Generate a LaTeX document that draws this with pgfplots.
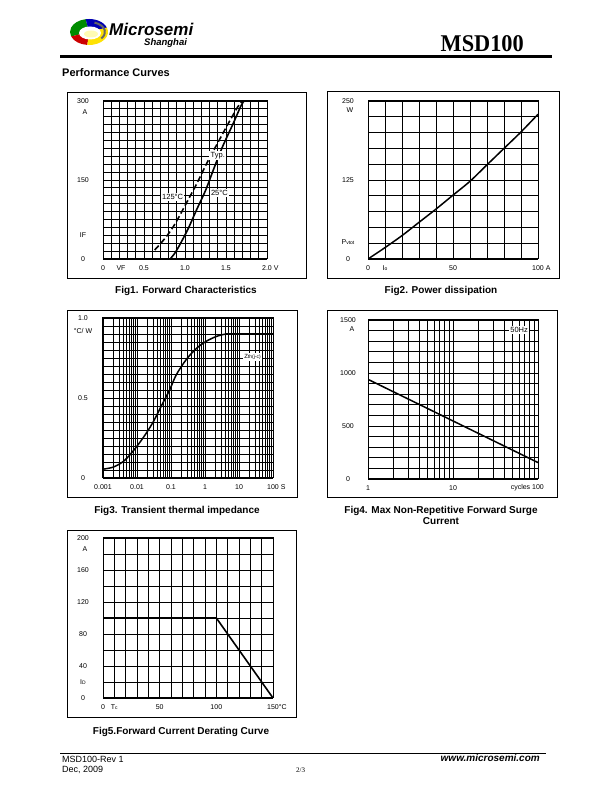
\documentclass[border=0pt]{standalone}
\usepackage{pgfplots}
\pgfplotsset{compat=1.18}
\usepackage{fontspec}
\setmainfont{Liberation Sans}
\newfontfamily\seriffont{Liberation Serif}

\pgfplotsset{
  ds/.style={
    scale only axis, anchor=south west,
    axis line style={line width=1pt},
    grid=both,
    major grid style={black, line width=0.8pt},
    minor grid style={black, line width=0.8pt},
    major tick length=0pt, minor tick length=0pt,
    tick label style={font=\fontsize{7}{8}\selectfont},
    xticklabel style={anchor=center, yshift=-9pt},
    yticklabel style={anchor=center, xshift=-20pt},
    extra x tick style={grid=none},
    extra y tick style={grid=none},
  },
}
\tikzset{lbl/.style={fill=white, inner sep=1.3pt, font=\fontsize{7.5}{8}\selectfont}}

\begin{document}
\begin{tikzpicture}[x=1pt,y=1pt]
\fill[white] (0pt,0pt) rectangle (612pt,792pt);

% ---------- header ----------
\begin{scope}[shift={(89pt,760pt)}]
  \fill[green!55!black] (0,0) -- (100:19pt and 13pt) arc[start angle=100,end angle=200,x radius=19pt,y radius=13pt] -- cycle;
  \fill[blue!70!black] (0,0) -- (20:19pt and 13pt) arc[start angle=20,end angle=100,x radius=19pt,y radius=13pt] -- cycle;
  \fill[red!80!black] (0,0) -- (200:19pt and 13pt) arc[start angle=200,end angle=265,x radius=19pt,y radius=13pt] -- cycle;
  \fill[yellow!85!orange] (0,0) -- (265:19pt and 13pt) arc[start angle=265,end angle=380,x radius=19pt,y radius=13pt] -- cycle;
  \fill[white] (1pt,-1pt) ellipse [x radius=11pt, y radius=6.5pt];
  \fill[yellow!30] (2pt,-2pt) ellipse [x radius=7pt, y radius=3.5pt];
  \draw[black!60, line width=2pt] (70:16pt and 10pt) arc[start angle=70,end angle=-40,x radius=16pt,y radius=10pt];
\end{scope}
\node[anchor=base west, inner sep=0pt, font=\bfseries\itshape\fontsize{17}{17}\selectfont] at (109pt,756pt) {Microsemi};
\node[anchor=base west, inner sep=0pt, font=\bfseries\itshape\fontsize{9.5}{10}\selectfont] at (144pt,746pt) {Shanghai};
\node[anchor=base east, inner sep=0pt, font=\seriffont\bfseries\fontsize{24}{24}\selectfont] at (524pt,740pt) {\scalebox{0.93}[1]{MSD100}};
\fill (60pt,734pt) rectangle (552pt,737pt);
\node[anchor=base west, inner sep=0pt, font=\bfseries\fontsize{11}{12}\selectfont] at (62pt,715pt) {Performance Curves};

% ---------- frames ----------
\draw[line width=0.9pt] (67pt,514pt) rectangle (306pt,700pt);
\draw[line width=0.9pt] (327pt,514pt) rectangle (559pt,701pt);
\draw[line width=0.9pt] (67pt,295pt) rectangle (297pt,482pt);
\draw[line width=0.9pt] (327pt,295pt) rectangle (557pt,482pt);
\draw[line width=0.9pt] (67pt,75pt) rectangle (296pt,262pt);

% ---------- Fig1 ----------
\begin{axis}[ds, at={(103pt,533pt)}, width=164pt, height=158pt,
  xmin=0, xmax=2, ymin=0, ymax=300,
  xtick={0,0.5,1,1.5,2}, minor x tick num=4,
  xticklabels={0,0.5,1.0,1.5,2.0\rlap{\ V}},
  extra x ticks={0.22}, extra x tick labels={VF},
  ytick={0,150,300}, minor y tick num=9,
  yticklabels={0,150,300},
  extra y ticks={45,279}, extra y tick labels={IF,\hphantom{0}A},
]
\addplot[black, line width=1.6pt, dash pattern=on 6pt off 3pt, smooth] coordinates {
 (0.63,17) (0.70,29) (0.78,44) (0.86,62) (0.93,81) (1.03,110) (1.14,142)
 (1.26,180) (1.38,215) (1.52,255) (1.64,288) (1.70,300)};
\addplot[black, line width=1.6pt, smooth] coordinates {
 (0.82,0) (0.88,12) (0.94,28) (1.04,58) (1.14,93) (1.25,130) (1.36,175)
 (1.46,214) (1.59,258) (1.68,290) (1.72,300)};
\node[lbl] at (axis cs:1.40,197) {Typ.};
\node[lbl] at (axis cs:0.85,117) {125°C};
\node[lbl] at (axis cs:1.42,125) {25°C};
\end{axis}

% ---------- Fig2 ----------
\begin{axis}[ds, at={(368pt,533pt)}, width=170pt, height=158pt,
  xmin=0, xmax=100, ymin=0, ymax=250,
  xtick={0,50,100}, minor x tick num=4,
  xticklabels={0,50,100\rlap{\ A}},
  extra x ticks={10}, extra x tick labels={I{\fontsize{5}{6}\selectfont o}},
  ytick={0,125,250}, minor y tick num=4,
  yticklabels={0,125,250},
  extra y ticks={27,236}, extra y tick labels={P{\fontsize{5}{6}\selectfont vtot},\hphantom{0}W},
]
\addplot[black, line width=1.5pt, smooth] coordinates {
 (0,0) (10,18) (20,37) (30,58) (40,79) (50,101) (60,123) (70,149) (80,175) (90,201) (100,229)};
\end{axis}

% ---------- Fig3 ----------
\begin{axis}[ds, at={(103pt,314pt)}, width=170pt, height=160pt,
  xmode=log, xmin=0.001, xmax=100, ymin=0, ymax=1,
  xtick={0.001,0.01,0.1,1,10,100},
  minor xtick={0.002,0.003,0.004,0.005,0.006,0.007,0.008,0.009,
   0.02,0.03,0.04,0.05,0.06,0.07,0.08,0.09,
   0.2,0.3,0.4,0.5,0.6,0.7,0.8,0.9,
   2,3,4,5,6,7,8,9,20,30,40,50,60,70,80,90},
  xticklabels={0.001,0.01,0.1,1,10,100\rlap{\ S}},
  ytick={0,0.5,1}, minor y tick num=9,
  yticklabels={0,0.5,1.0},
  extra y ticks={0.92}, extra y tick labels={°C/ W},
]
\addplot[black, line width=1.5pt, smooth] coordinates {
 (0.001,0.055) (0.002,0.068) (0.004,0.104) (0.0076,0.167) (0.015,0.25)
 (0.029,0.345) (0.058,0.47) (0.091,0.55) (0.143,0.645) (0.28,0.74)
 (0.56,0.81) (1.1,0.855) (2.2,0.885) (4.2,0.90) (8,0.90) (100,0.90)};
\node[lbl, font=\fontsize{6}{7}\selectfont] at (axis cs:25,0.756) {Z{\fontsize{5}{6}\selectfont th(j-c)}};
\end{axis}

% ---------- Fig4 ----------
\begin{axis}[ds, at={(368pt,313pt)}, width=170pt, height=159pt,
  xmode=log, xmin=1, xmax=100, ymin=0, ymax=1500,
  xtick={1,10,100},
  minor xtick={2,3,4,5,6,7,8,9,20,30,40,50,60,70,80,90},
  xticklabels={1,10,\llap{cycles\ }100},
  ytick={0,500,1000,1500}, minor y tick num=4,
  yticklabels={0,500,1000,1500},
  extra y ticks={1415}, extra y tick labels={\hphantom{00}A},
]
\addplot[black, line width=1.5pt] coordinates {(1,940) (100,155)};
\node[lbl] at (axis cs:60,1406) {50Hz};
\end{axis}

% ---------- Fig5 ----------
\begin{axis}[ds, at={(103pt,94pt)}, width=170pt, height=160pt,
  xmin=0, xmax=150, ymin=0, ymax=200,
  xtick={0,50,100,150}, minor x tick num=4,
  xticklabels={0,50,100,150\rlap{°C}},
  extra x ticks={10}, extra x tick labels={T{\fontsize{5}{6}\selectfont c}},
  ytick={0,40,80,120,160,200}, minor y tick num=1,
  yticklabels={0,40,80,120,160,200},
  extra y ticks={20,186}, extra y tick labels={I{\fontsize{5}{6}\selectfont D},\hphantom{0}A},
]
\addplot[black, line width=1.6pt] coordinates {(0,100) (100,100) (150,0)};
\end{axis}

% ---------- captions ----------
\node[anchor=base, font=\bfseries\fontsize{10}{12}\selectfont] at (186pt,498pt) {Fig1. Forward Characteristics};
\node[anchor=base, font=\bfseries\fontsize{10}{12}\selectfont] at (441pt,498pt) {Fig2. Power dissipation};
\node[anchor=base, font=\bfseries\fontsize{10}{12}\selectfont] at (177pt,278pt) {Fig3. Transient thermal impedance};
\node[anchor=base, font=\bfseries\fontsize{10}{12}\selectfont] at (441pt,278pt) {Fig4. Max Non-Repetitive Forward Surge};
\node[anchor=base, font=\bfseries\fontsize{10}{12}\selectfont] at (441pt,267pt) {Current};
\node[anchor=base, font=\bfseries\fontsize{10}{12}\selectfont] at (181pt,57pt) {Fig5.Forward Current Derating Curve};

% ---------- footer ----------
\draw[line width=0.8pt] (60pt,39pt) -- (546pt,39pt);
\node[anchor=base west, inner sep=0pt, font=\fontsize{9}{10}\selectfont] at (62pt,29pt) {MSD100-Rev 1};
\node[anchor=base west, inner sep=0pt, font=\fontsize{9}{10}\selectfont] at (62pt,19pt) {Dec, 2009};
\node[anchor=base west, inner sep=0pt, font=\seriffont\fontsize{7}{8}\selectfont] at (296pt,19pt) {2/3};
\node[anchor=base east, inner sep=0pt, font=\bfseries\itshape\fontsize{10}{11}\selectfont] at (540pt,30pt) {www.microsemi.com};
\end{tikzpicture}
\end{document}
